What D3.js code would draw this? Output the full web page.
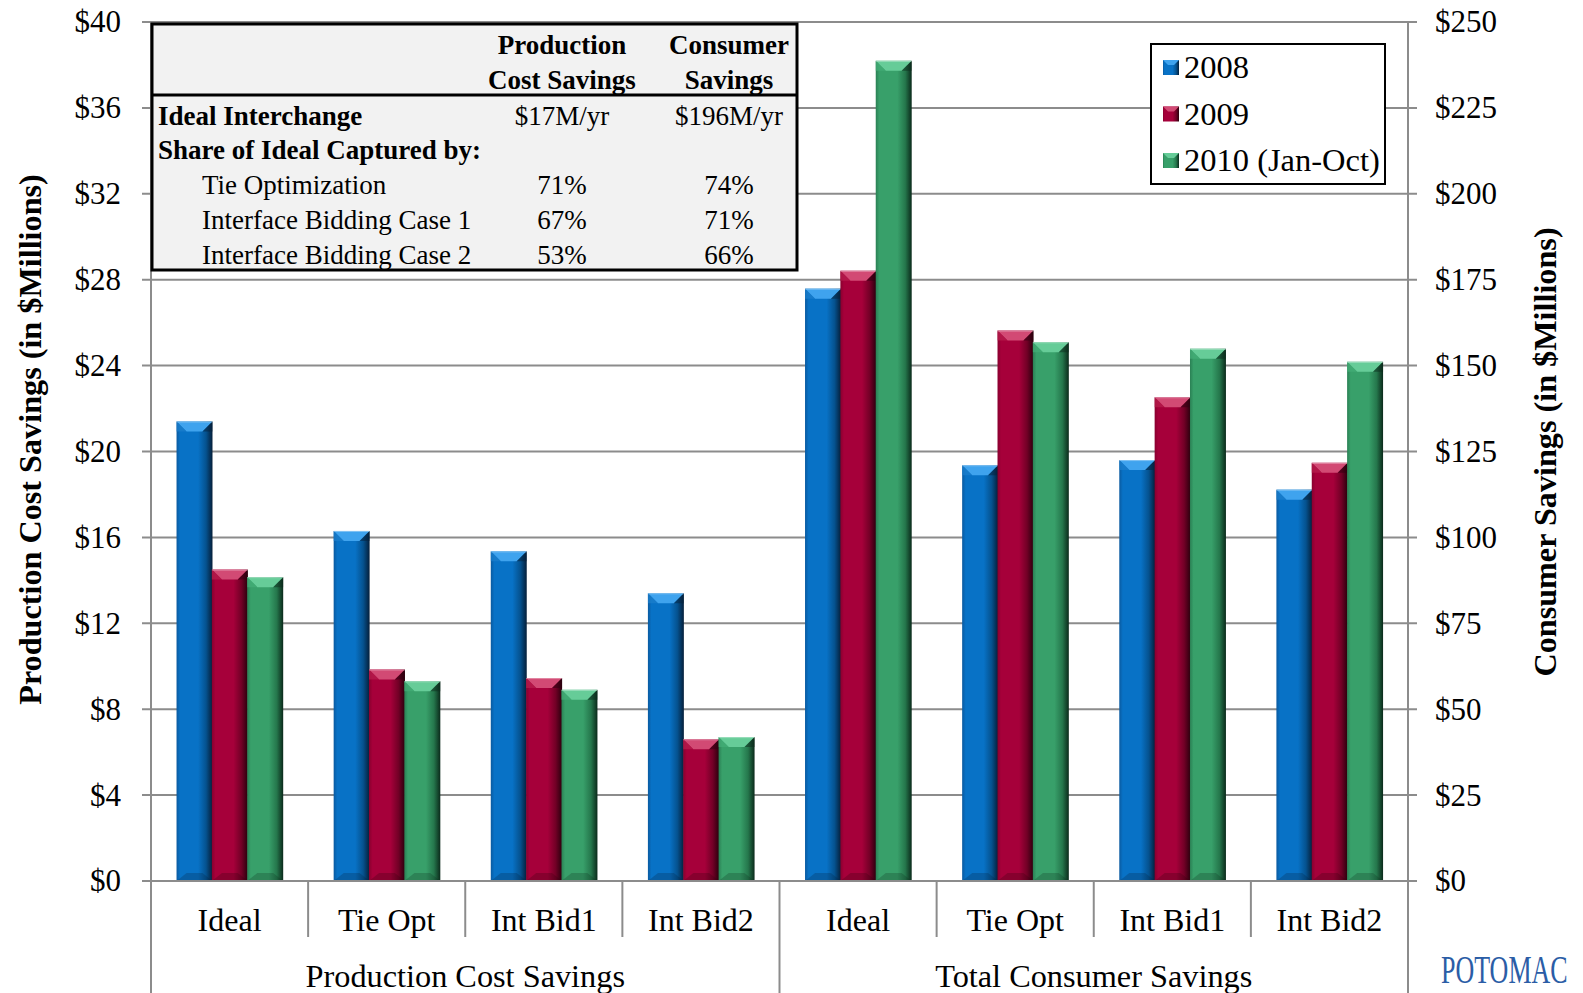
<!DOCTYPE html>
<html><head><meta charset="utf-8">
<script src="https://cdn.jsdelivr.net/npm/d3@7/dist/d3.min.js"></script>
<style>
html,body{margin:0;padding:0;background:#fff;}
svg{display:block;font-family:"Liberation Serif","Times New Roman",serif;}
</style></head>
<body><svg id="chart" width="1583" height="993"></svg>
<script>
// ---------------- DATA ----------------
const categories = ["Ideal", "Tie Opt", "Int Bid1", "Int Bid2"];
const groups = ["Production Cost Savings", "Total Consumer Savings"];
const seriesNames = ["2008", "2009", "2010 (Jan-Oct)"];
// Production cost savings (left axis, $M)
const prod2008 = [21.4, 16.3, 15.35, 13.4];
const prod2009 = [14.5, 9.85, 9.45, 6.6];
const prod2010 = [14.15, 9.3, 8.9, 6.7];
// Total consumer savings (right axis, $M)
const cons2008 = [172.4, 121.0, 122.5, 113.9];
const cons2009 = [177.6, 160.2, 140.8, 121.7];
const cons2010 = [238.7, 156.8, 154.9, 151.1];
const leftTicks = [0, 4, 8, 12, 16, 20, 24, 28, 32, 36, 40];
const rightTicks = [0, 25, 50, 75, 100, 125, 150, 175, 200, 225, 250];
const leftTitle = "Production Cost Savings (in $Millions)";
const rightTitle = "Consumer Savings (in $Millions)";
// inset table
const tableColHeads = [["Production", "Cost Savings"], ["Consumer", "Savings"]];
const tableRowLabels = ["Ideal Interchange", "Share of Ideal Captured by:", "Tie Optimization", "Interface Bidding Case 1", "Interface Bidding Case 2"];
const tableProd = ["$17M/yr", "", "71%", "67%", "53%"];
const tableCons = ["$196M/yr", "", "74%", "71%", "66%"];
const logoText = "POTOMAC";

// ---------------- LAYOUT ----------------
const svg = d3.select("#chart");
const L = 151, R = 1408, T = 22, B = 881;
const palette = {
  "2008": {main: "#0872c6", left: "#0a5aa0", dark: "#051f3a", mid: "#05528f", bevel: "#3fa3ee", bevelSide: "#1c7fcc"},
  "2009": {main: "#a6003a", left: "#88002e", dark: "#2a000d", mid: "#720026", bevel: "#d24a74", bevelSide: "#b8204e"},
  "2010 (Jan-Oct)": {main: "#38a06a", left: "#2a8054", dark: "#0b2a1b", mid: "#25774c", bevel: "#66cc98", bevelSide: "#45ae78"}
};

const yL = d3.scaleLinear().domain([0, 40]).range([B, T]);
const yR = d3.scaleLinear().domain([0, 250]).range([B, T]);

const keys = [];
groups.forEach((g, gi) => categories.forEach((c, ci) => keys.push(gi + "|" + ci)));
const x0 = d3.scaleBand().domain(keys).range([L, R]).paddingInner(0.325).paddingOuter(0.1625);
const x1 = d3.scaleBand().domain(seriesNames).range([0, x0.bandwidth()]);

const prodSeries = [prod2008, prod2009, prod2010];
const consSeries = [cons2008, cons2009, cons2010];
const bars = [];
groups.forEach((g, gi) => {
  const src = gi === 0 ? prodSeries : consSeries;
  const sc = gi === 0 ? yL : yR;
  categories.forEach((c, ci) => {
    seriesNames.forEach((s, si) => {
      bars.push({key: gi + "|" + ci, s, v: src[si][ci], sc});
    });
  });
});

// gradients
const defs = svg.append("defs");
seriesNames.forEach((s, i) => {
  const p = palette[s];
  const g = defs.append("linearGradient").attr("id", "g" + i).attr("x1", "0").attr("x2", "1").attr("y1", "0").attr("y2", "0");
  [[0, p.left], [0.1, p.main], [0.6, p.main], [0.82, p.mid], [1, p.dark]].forEach(([o, c]) =>
    g.append("stop").attr("offset", o).attr("stop-color", c));
});

// gridlines
const grid = svg.append("g");
leftTicks.forEach(t => {
  grid.append("line").attr("x1", L - 9).attr("x2", R + 9).attr("y1", yL(t)).attr("y2", yL(t))
    .attr("stroke", "#8c8c8c").attr("stroke-width", 2);
});

// axes lines (vertical)
svg.append("line").attr("x1", L).attr("x2", L).attr("y1", T).attr("y2", 993).attr("stroke", "#8c8c8c").attr("stroke-width", 2);
svg.append("line").attr("x1", R).attr("x2", R).attr("y1", T).attr("y2", 993).attr("stroke", "#8c8c8c").attr("stroke-width", 2);

// category separators
keys.forEach((k, i) => {
  if (i === 0) return;
  const xs = x0(k) - x0.step() * x0.paddingInner() / 2;
  const major = (i % categories.length) === 0;
  svg.append("line").attr("x1", xs).attr("x2", xs).attr("y1", B).attr("y2", major ? 993 : 937)
    .attr("stroke", "#8c8c8c").attr("stroke-width", 2);
});

// left axis tick labels
const axL = svg.append("g").attr("transform", `translate(${L},0)`)
  .call(d3.axisLeft(yL).tickValues(leftTicks).tickFormat(d => "$" + d).tickSize(0).tickPadding(30));
axL.select(".domain").remove();
axL.selectAll("text").attr("font-size", 31).attr("font-family", "Liberation Serif").attr("fill", "#000");
const axR = svg.append("g").attr("transform", `translate(${R},0)`)
  .call(d3.axisRight(yR).tickValues(rightTicks).tickFormat(d => "$" + d).tickSize(0).tickPadding(27));
axR.select(".domain").remove();
axR.selectAll("text").attr("font-size", 31).attr("font-family", "Liberation Serif").attr("fill", "#000");

// bars
const barG = svg.append("g");
bars.forEach(d => {
  const si = seriesNames.indexOf(d.s);
  const p = palette[d.s];
  const x = x0(d.key) + x1(d.s);
  const w = x1.bandwidth() + 0.6;
  const y = d.sc(d.v);
  const h = B - y;
  const g = barG.append("g");
  g.append("rect").attr("x", x).attr("y", y).attr("width", w).attr("height", h).attr("fill", `url(#g${si})`);
  const bh = 10;
  // top bevel
  g.append("path").attr("d", `M${x},${y}L${x + w},${y}L${x + w * 0.72},${y + bh}L${x + w * 0.28},${y + bh}Z`).attr("fill", p.bevel);
  g.append("path").attr("d", `M${x},${y}L${x + w * 0.28},${y + bh}L${x},${y + bh}Z`).attr("fill", p.bevelSide).attr("opacity", 0.7);
  g.append("path").attr("d", `M${x + w},${y}L${x + w * 0.72},${y + bh}L${x + w},${y + bh}Z`).attr("fill", p.dark).attr("opacity", 0.5);
  // bottom bevel
  g.append("path").attr("d", `M${x},${B}L${x + w},${B}L${x + w * 0.72},${B - 8}L${x + w * 0.28},${B - 8}Z`).attr("fill", p.dark).attr("opacity", 0.25);
  g.append("line").attr("x1", x).attr("x2", x + w).attr("y1", y + 0.5).attr("y2", y + 0.5).attr("stroke", "#ffffff").attr("stroke-opacity", 0.35);
});

// x-axis line
svg.append("line").attr("x1", L - 9).attr("x2", R + 9).attr("y1", B).attr("y2", B).attr("stroke", "#8c8c8c").attr("stroke-width", 2);

// category labels
keys.forEach(k => {
  const ci = +k.split("|")[1];
  svg.append("text").attr("x", x0(k) + x0.bandwidth() / 2).attr("y", 920).attr("text-anchor", "middle")
    .attr("dominant-baseline", "central").attr("font-size", 32).text(categories[ci]);
});
groups.forEach((g, gi) => {
  const first = x0(gi + "|0") - x0.step() * x0.paddingInner() / 2;
  const last = x0(gi + "|" + (categories.length - 1)) + x0.bandwidth() + x0.step() * x0.paddingInner() / 2;
  svg.append("text").attr("x", (first + last) / 2).attr("y", 976).attr("text-anchor", "middle")
    .attr("dominant-baseline", "central").attr("font-size", 32.3).text(g);
});

// axis titles
svg.append("text").attr("transform", `translate(30,${(174 + 705) / 2}) rotate(-90)`).attr("text-anchor", "middle")
  .attr("dominant-baseline", "central").attr("font-size", 32.2).attr("font-weight", "bold").text(leftTitle);
svg.append("text").attr("transform", `translate(1545,452) rotate(-90)`).attr("text-anchor", "middle")
  .attr("dominant-baseline", "central").attr("font-size", 32.2).attr("font-weight", "bold").text(rightTitle);

// inset table
const tb = svg.append("g");
tb.append("rect").attr("x", 152).attr("y", 24).attr("width", 645).attr("height", 246).attr("fill", "#f2f2f2")
  .attr("stroke", "#000").attr("stroke-width", 3);
tb.append("line").attr("x1", 152).attr("x2", 797).attr("y1", 95).attr("y2", 95).attr("stroke", "#000").attr("stroke-width", 3);
const colX = [562, 729];
tableColHeads.forEach((lines, i) => {
  lines.forEach((t, j) => {
    tb.append("text").attr("x", colX[i]).attr("y", [44.5, 79.5][j]).attr("text-anchor", "middle").attr("dominant-baseline", "central")
      .attr("font-size", 27).attr("font-weight", "bold").text(t);
  });
});
const rowY = [115.5, 150, 185, 220, 255];
tableRowLabels.forEach((t, i) => {
  tb.append("text").attr("x", i < 2 ? 158 : 202).attr("y", rowY[i]).attr("dominant-baseline", "central")
    .attr("font-size", 27).attr("font-weight", i < 2 ? "bold" : "normal").text(t);
  tb.append("text").attr("x", colX[0]).attr("y", rowY[i]).attr("text-anchor", "middle").attr("dominant-baseline", "central")
    .attr("font-size", 27).text(tableProd[i]);
  tb.append("text").attr("x", colX[1]).attr("y", rowY[i]).attr("text-anchor", "middle").attr("dominant-baseline", "central")
    .attr("font-size", 27).text(tableCons[i]);
});

// legend
const lg = svg.append("g");
lg.append("rect").attr("x", 1151).attr("y", 44).attr("width", 234).attr("height", 140).attr("fill", "#fff")
  .attr("stroke", "#000").attr("stroke-width", 2);
seriesNames.forEach((s, i) => {
  const cy = 67 + i * 46.5;
  lg.append("rect").attr("x", 1163).attr("y", cy - 7).attr("width", 16).attr("height", 15).attr("fill", `url(#g${i})`);
  lg.append("path").attr("d", `M1163,${cy - 7}L1179,${cy - 7}L1174,${cy - 2}L1168,${cy - 2}Z`).attr("fill", palette[s].bevel);
  lg.append("text").attr("x", 1184).attr("y", cy).attr("dominant-baseline", "central").attr("font-size", 32.5).text(s);
});

// logo
svg.append("text").attr("transform", "translate(1441,983) scale(1,1.5)").attr("font-size", 26).attr("fill", "#2b5da6")
  .text(logoText);
</script></body></html>
